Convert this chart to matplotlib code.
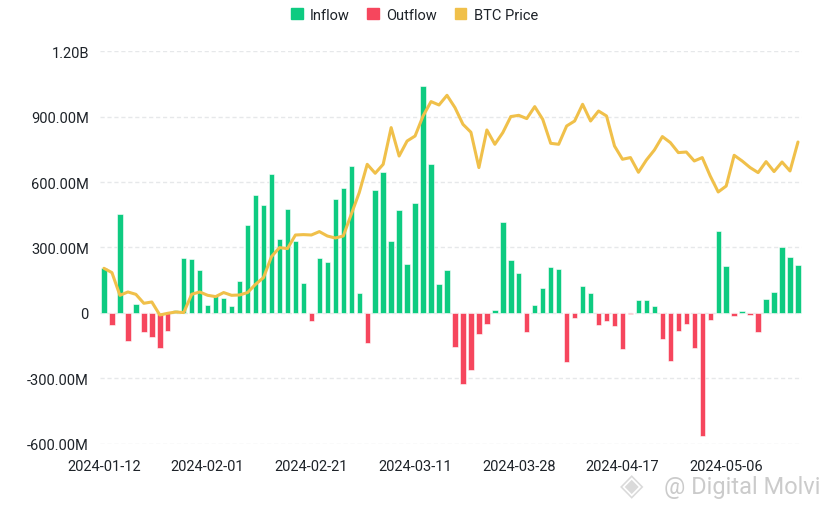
import matplotlib.pyplot as plt
import numpy as np

# daily net flows (millions USD), one value per trading day
flows = [204, -53, 454, -128, 43, -88, -108, -160, -81, 12,
         254, 247, 198, 37, 78, 67, 32, 145, 405, 542,
         493, 637, 340, 477, 330, 136, -36, 251, 232, 520,
         574, 673, 92, -139, 562, 647, 332, 471, 223, 506,
         1042, 682, 132, 198, -155, -324, -261, -96, -52, 14,
         417, 242, 181, -88, 38, 113, 212, 203, -225, -21,
         122, 90, -56, -38, -59, -166, -4, 58, 61, 30,
         -121, -218, -83, -52, -162, -562, -33, 376, 215, -15,
         11, -11, -85, 64, 98, 301, 256, 220]

# BTC price (USD), same days
btc_price = [46640, 45980, 42510, 43020, 42660, 41290, 41490, 39500, 39760, 39960,
             39870, 42670, 43020, 42510, 42310, 42930, 42510, 42560, 42930, 44190,
             45220, 48430, 49800, 49650, 51730, 51790, 51730, 52250, 51580, 51270,
             51580, 54900, 58210, 62540, 61170, 62540, 68150, 63810, 66100, 66870,
             69930, 72130, 71610, 73090, 71210, 68660, 67440, 62040, 67790, 65600,
             67390, 69840, 70030, 69530, 71360, 69420, 65750, 65600, 68400, 69160,
             71720, 69160, 70690, 69930, 65340, 63310, 63570, 61320, 63200, 64730,
             66780, 65860, 64330, 64420, 63050, 63570, 60750, 58310, 59220, 63920,
             63050, 62040, 61270, 62950, 61430, 62890, 61520, 65950]

tick_idx = [0, 13, 26, 39, 52, 65, 78]
tick_labels = ["2024-01-12", "2024-02-01", "2024-02-21", "2024-03-11",
               "2024-03-28", "2024-04-17", "2024-05-06"]
ytick_vals = [-600, -300, 0, 300, 600, 900, 1200]
ytick_labels = ["-600.00M", "-300.00M", "0", "300.00M", "600.00M", "900.00M", "1.20B"]

GREEN = "#0ECB81"
RED = "#F6465D"
GOLD = "#F0C04A"
TEXT = "#1E2329"

plt.rcParams["font.family"] = ["Roboto", "DejaVu Sans"]

fig = plt.figure(figsize=(8.29, 5.10), dpi=100)
ax = fig.add_axes([0.1206, 0.1275, 0.8468, 0.7705])

x = np.arange(len(flows))
flows = np.array(flows)
colors = [GREEN if v >= 0 else RED for v in flows]
ax.bar(x, flows, width=0.68, color=colors, edgecolor="white", linewidth=0.4, zorder=2)

ax.set_xlim(-0.5, len(flows) - 0.5)
ax.set_ylim(-600, 1200)
ax.set_yticks(ytick_vals)
ax.set_yticklabels(ytick_labels)
ax.set_xticks(tick_idx)
ax.set_xticklabels(tick_labels)
ax.tick_params(axis="both", length=0, labelsize=10.5, colors=TEXT)
ax.tick_params(axis="x", pad=11)
ax.tick_params(axis="y", pad=8)
for s in ax.spines.values():
    s.set_visible(False)
ax.grid(axis="y", color="#E6E8EA", linestyle=(0, (3, 2)), linewidth=1, zorder=0)
ax.set_axisbelow(True)

# price on a hidden second axis
ax2 = ax.twinx()
ax2.plot(x, btc_price, color=GOLD, linewidth=2.2, solid_joinstyle="round",
         solid_capstyle="round", zorder=3)
ax2.set_ylim(19778, 79862)
ax2.axis("off")

# legend
handles = [plt.Rectangle((0, 0), 1, 1, color=c) for c in (GREEN, RED, GOLD)]
fig.legend(handles, ["Inflow", "Outflow", "BTC Price"], loc="center",
           bbox_to_anchor=(0.5, 0.969), ncol=3, frameon=False, fontsize=10.5,
           handlelength=0.8, handleheight=0.8, handletextpad=0.5, columnspacing=1.2,
           labelcolor=TEXT)

# watermark
fig.text(0.99, 0.045, "@ Digital Molvi", ha="right", va="center",
         fontsize=17, color="#CBCBCB")
fig.text(0.762, 0.045, "\u25c8", ha="center", va="center",
         fontsize=22, color="#DADADA", family="DejaVu Sans")

fig.savefig("out.png", dpi=100)
